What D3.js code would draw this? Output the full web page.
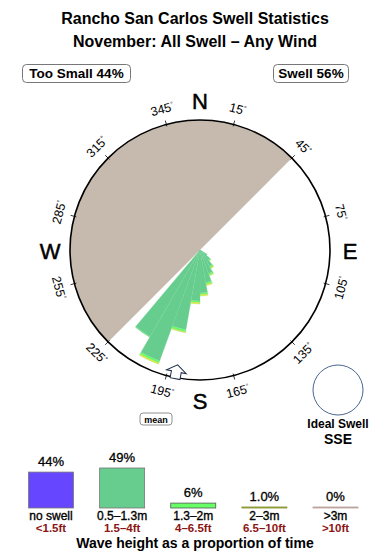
<!DOCTYPE html>
<html>
<head>
<meta charset="utf-8">
<script src="https://cdn.jsdelivr.net/npm/d3@7"></script>
<style>
  body { margin: 0; background: #fff; }
  text { font-family: "Liberation Sans", Arial, Helvetica, sans-serif; }
</style>
</head>
<body>
<div id="viz"></div>
<script>
// Swell rose for one month: grey half = too small, petals = swell by direction

var title1 = "Rancho San Carlos Swell Statistics";
var title2 = "November: All Swell \u2013 Any Wind";

var tooSmallPct = 44;
var swellPct = 56;
var meanDir = 191;
var idealName = "SSE";

// petal bins (compass degrees, 10 deg wide) and stacked share per wave band
var dirBins  = [125, 135, 145, 155, 165, 175, 185, 195, 205, 215];
var bandMain = [0.8, 1.3, 1.9, 2.5, 3.3, 4.3, 5.1, 8.1, 11.8, 10.0];
var band13   = [0.0, 0.1, 0.15, 0.15, 0.15, 0.15, 0.15, 0.2, 0.2, 0.05];
var band23   = [0.0, 0.05, 0.1, 0.1, 0.15, 0.15, 0.15, 0.1, 0.15, 0.0];

var compassTicks = [15, 45, 75, 105, 135, 165, 195, 225, 255, 285, 315, 345];
var cardinals = ["N", "E", "S", "W"];

var legendNames = ["no swell", "0.5\u20131.3m", "1.3\u20132m", "2\u20133m", ">3m"];
var legendFeet  = ["<1.5ft", "1.5\u20134ft", "4\u20136.5ft", "6.5\u201310ft", ">10ft"];
var legendPct   = [44, 49, 6, 1.0, 0];
var legendText  = ["44%", "49%", "6%", "1.0%", "0%"];
var legendColor = ["#6646ff", "#66cd8e", "#66ff66", "#e8e830", "#c9a9a4"];
var legendStroke = ["#777", "#777", "#555", "#7c8a2e", "#b9a09b"];

var cx = 200, cy = 250, R = 130;
var rad = Math.PI / 180;

var svg = d3.select("#viz").append("svg")
    .attr("width", 390).attr("height", 560);

// titles
svg.append("text").attr("x", 195).attr("y", 24)
    .attr("text-anchor", "middle").attr("font-size", 16).attr("font-weight", "bold")
    .text(title1);
svg.append("text").attr("x", 195).attr("y", 47)
    .attr("text-anchor", "middle").attr("font-size", 16).attr("font-weight", "bold")
    .text(title2);

function add_box(x, y, w, label) {
    svg.append("rect")
        .attr("x", x).attr("y", y).attr("width", w).attr("height", 18)
        .attr("rx", 4).attr("ry", 4)
        .attr("style", "fill:#fff;stroke:#777;stroke-width:1");
    svg.append("text").attr("x", x + w / 2).attr("y", y + 13.5)
        .attr("text-anchor", "middle").attr("font-size", 13.5).attr("font-weight", "bold")
        .text(label);
}
add_box(22.5, 64.5, 108, "Too Small " + tooSmallPct + "%");
add_box(273.5, 64.5, 75, "Swell " + swellPct + "%");

var rose = svg.append("g").attr("transform", "translate(" + cx + "," + cy + ")");

// grey half for the too-small share
rose.append("path")
    .attr("d", d3.arc()({innerRadius: 0, outerRadius: R, startAngle: 225 * rad, endAngle: 405 * rad}))
    .attr("fill", "#c5baad");

// petals
var r = d3.scaleLinear().domain([0, 13]).range([0, R]);
var rows = dirBins.map(function(d, i) {
    return {dir: d, main: bandMain[i], b13: band13[i], b23: band23[i]};
});
var stack = d3.stack().keys(["main", "b13", "b23"])(rows);
var petalColor = {main: "#66cd8e", b13: "#66ff66", b23: "#eeee2a"};
var arc = d3.arc();

rose.append("g").selectAll("g")
    .data(stack)
    .join("g")
    .attr("fill", function(s) { return petalColor[s.key]; })
    .selectAll("path")
    .data(function(s) { return s; })
    .join("path")
    .attr("d", function(d) {
        return arc({innerRadius: r(d[0]), outerRadius: r(d[1]),
                    startAngle: (d.data.dir - 5) * rad, endAngle: (d.data.dir + 5) * rad});
    })
    .attr("stroke", "#72d496").attr("stroke-width", 0.3);

// rim
rose.append("circle").attr("r", R)
    .attr("style", "fill:none;stroke:#000;stroke-width:1.6");

// ticks and degree labels
rose.selectAll(".tick")
    .data(compassTicks)
    .join("line")
    .attr("x1", function(d) { return (R - 2) * Math.sin(d * rad); })
    .attr("y1", function(d) { return -(R - 2) * Math.cos(d * rad); })
    .attr("x2", function(d) { return (R + 4) * Math.sin(d * rad); })
    .attr("y2", function(d) { return -(R + 4) * Math.cos(d * rad); })
    .attr("stroke", "#000").attr("stroke-width", 0.8);

var lbl = rose.selectAll(".deg")
    .data(compassTicks)
    .join("text")
    .attr("transform", function(d) {
        var x = 146 * Math.sin(d * rad), y = -146 * Math.cos(d * rad);
        var rot = (d > 90 && d < 270) ? d - 180 : (d > 180 ? d - 360 : d);
        return "translate(" + x + "," + y + ") rotate(" + rot + ")";
    })
    .attr("text-anchor", "middle").attr("dy", "0.35em")
    .attr("font-size", 12.5);
lbl.append("tspan").text(function(d) { return d; });
lbl.append("tspan").attr("font-size", 7).attr("dy", "-0.6em").text("\u00b0");

// cardinal letters
rose.selectAll(".card")
    .data(cardinals)
    .join("text")
    .attr("x", function(d, i) { return 150 * Math.sin(i * 90 * rad); })
    .attr("y", function(d, i) { return -150 * Math.cos(i * 90 * rad) + 8.5; })
    .attr("text-anchor", "middle").attr("font-size", 22)
    .attr("stroke", "#000").attr("stroke-width", 0.5)
    .text(function(d) { return d; });

// mean direction arrow sitting on the rim, pointing inward
var arrowPts = [[R - 13, 0], [R - 6, -10], [R - 6, -5], [R + 1, -5], [R + 1, 5], [R - 6, 5], [R - 6, 10]];
rose.append("path")
    .attr("d", d3.line()(arrowPts) + "Z")
    .attr("transform", "rotate(" + (meanDir - 90) + ")")
    .attr("style", "fill:#fff;stroke:#1c2b48;stroke-width:1");

svg.append("rect").attr("x", 140).attr("y", 413).attr("width", 32).attr("height", 12)
    .attr("rx", 3).attr("ry", 3)
    .attr("style", "fill:#fff;stroke:#777;stroke-width:0.8");
svg.append("text").attr("x", 156).attr("y", 422.5)
    .attr("text-anchor", "middle").attr("font-size", 9).attr("font-weight", "bold")
    .text("mean");

// ideal swell marker
svg.append("circle").attr("cx", 338).attr("cy", 390).attr("r", 25)
    .attr("style", "fill:none;stroke:#4a6690;stroke-width:1");
svg.append("text").attr("x", 338).attr("y", 428)
    .attr("text-anchor", "middle").attr("font-size", 12).attr("font-weight", "bold")
    .text("Ideal Swell");
svg.append("text").attr("x", 338).attr("y", 444)
    .attr("text-anchor", "middle").attr("font-size", 14).attr("font-weight", "bold")
    .text(idealName);

// wave height legend bars
var x = d3.scalePoint().domain(legendNames).range([51, 335.5]);
var y = d3.scaleLinear().domain([0, 49]).range([508, 468]);
var bw = 45;

var leg = svg.append("g").selectAll("g")
    .data(legendNames)
    .join("g");
leg.append("rect")
    .attr("x", function(d) { return x(d) - bw / 2; })
    .attr("y", function(d, i) { return Math.min(y(legendPct[i]), 507); })
    .attr("width", bw)
    .attr("height", function(d, i) { return Math.max(508 - y(legendPct[i]), 1); })
    .attr("fill", function(d, i) { return legendColor[i]; })
    .attr("stroke", function(d, i) { return legendStroke[i]; })
    .attr("stroke-width", 0.8);
leg.append("text")
    .attr("x", function(d) { return x(d); })
    .attr("y", function(d, i) { return Math.min(y(legendPct[i]), 507) - 6; })
    .attr("text-anchor", "middle").attr("font-size", 13)
    .attr("stroke", "#000").attr("stroke-width", 0.3)
    .text(function(d, i) { return legendText[i]; });
leg.append("text")
    .attr("x", function(d) { return x(d); }).attr("y", 519.5)
    .attr("text-anchor", "middle").attr("font-size", 12)
    .attr("stroke", "#000").attr("stroke-width", 0.35)
    .text(function(d) { return d; });
leg.append("text")
    .attr("x", function(d) { return x(d); }).attr("y", 532)
    .attr("text-anchor", "middle").attr("font-size", 11.5).attr("font-weight", "bold")
    .attr("fill", "#8b1414")
    .text(function(d, i) { return legendFeet[i]; });

svg.append("text").attr("x", 195).attr("y", 548)
    .attr("text-anchor", "middle").attr("font-size", 14).attr("font-weight", "bold")
    .text("Wave height as a proportion of time");
</script>
</body>
</html>
